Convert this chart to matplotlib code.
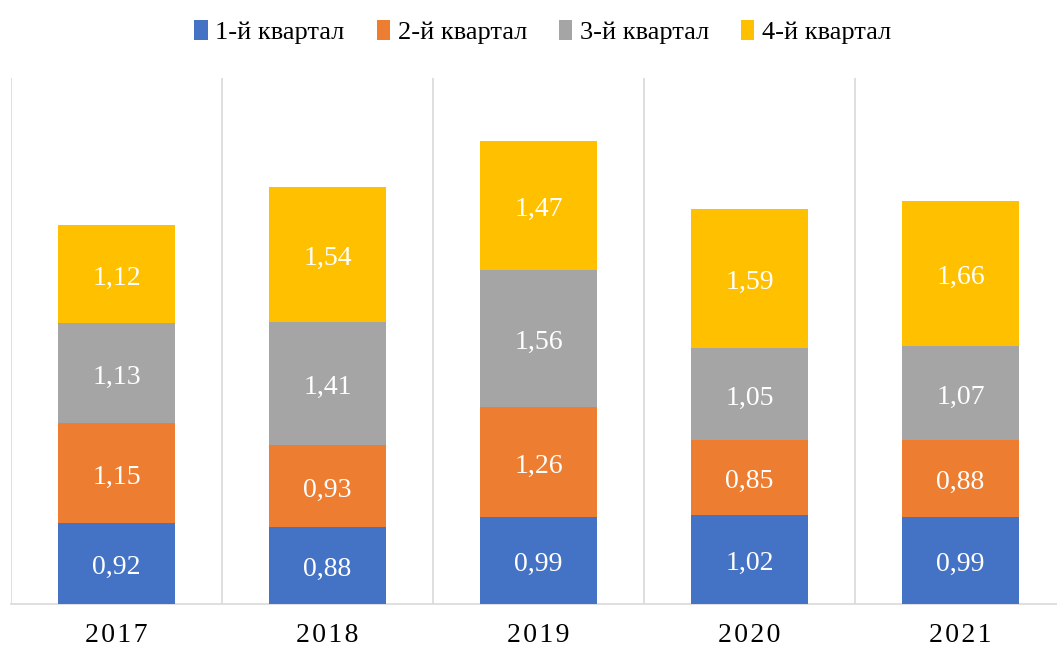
#! /usr/bin/env python3

"""
Stacked bar chart of quarterly values by year.
"""

import numpy as np
import matplotlib.pyplot as plt

years = ["2017", "2018", "2019", "2020", "2021"]
quarter_names = ["1-й квартал", "2-й квартал", "3-й квартал", "4-й квартал"]
q1 = [0.92, 0.88, 0.99, 1.02, 0.99]
q2 = [1.15, 0.93, 1.26, 0.85, 0.88]
q3 = [1.13, 1.41, 1.56, 1.05, 1.07]
q4 = [1.12, 1.54, 1.47, 1.59, 1.66]
colors = ["#4472c4", "#ed7d31", "#a5a5a5", "#ffc000"]


def fmt(v):
    return ("%.2f" % v).replace(".", ",")


def draw_stack(x, series, names, colors, width=0.555):
    bottom = np.zeros(len(x))
    for vals, name, col in zip(series, names, colors):
        vals = np.array(vals)
        plt.bar(x, vals, width, bottom=bottom, color=col, label=name, zorder=3)
        for xi, b, v in zip(x, bottom, vals):
            plt.annotate(fmt(v), (xi, b + v / 2.), xytext=(0, -3),
                         textcoords="offset points", ha="center", va="center",
                         color="white", fontsize=20, zorder=4)
        bottom = bottom + vals
    return bottom


if __name__ == "__main__":
    plt.rcParams["font.family"] = ["Liberation Serif", "DejaVu Serif"]

    fig = plt.figure(figsize=(10.57, 6.48), dpi=100)
    ax = fig.add_axes([11 / 1057., 44 / 648., 1055 / 1057., 526 / 648.])

    x = np.arange(len(years))
    draw_stack(x, [q1, q2, q3, q4], quarter_names, colors)

    # category separators
    for b in np.arange(len(years) + 1) - 0.5:
        plt.axvline(b, color="#d9d9d9", linewidth=1.2, zorder=1)

    plt.xlim(-0.5, len(years) - 0.5)
    plt.ylim(0, 6)
    spaced = ["\u200a".join(y) for y in years]  # letter spacing like the original
    plt.xticks(x, spaced, fontsize=20)
    plt.yticks([])
    ax.tick_params(axis="x", length=0, pad=14)
    for side in ["top", "right", "left"]:
        ax.spines[side].set_visible(False)
    ax.spines["bottom"].set_color("#d9d9d9")
    ax.spines["bottom"].set_linewidth(1.2)

    plt.legend(loc="upper center", bbox_to_anchor=(0.504, 1.155), ncol=4,
               frameon=False, fontsize=19, handlelength=0.5, handleheight=0.8,
               handletextpad=0.3, columnspacing=1.2)

    plt.savefig("out.png", dpi=100)
